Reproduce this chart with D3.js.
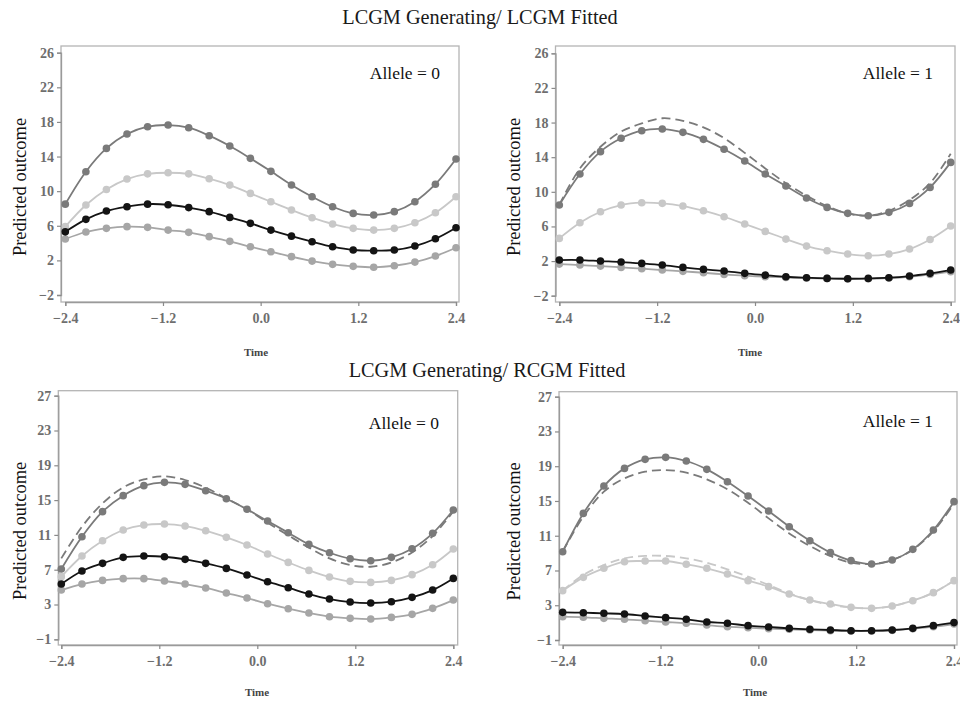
<!DOCTYPE html>
<html><head><meta charset="utf-8">
<script src="https://cdn.jsdelivr.net/npm/d3@7"></script>
<style>body{margin:0;background:#fff}svg{display:block}</style>
</head><body>
<svg id="chart" width="960" height="701"></svg>
<script>
// ---------- data ----------
const times = [-2.4, -2.147, -1.895, -1.642, -1.389, -1.137, -0.884, -0.632, -0.379, -0.126,
               0.126, 0.379, 0.632, 0.884, 1.137, 1.389, 1.642, 1.895, 2.147, 2.4];
const xTicks = [-2.4, -1.2, 0.0, 1.2, 2.4];
const yTicksTop = [-2, 2, 6, 10, 14, 18, 22, 26];
const yTicksBottom = [-1, 3, 7, 11, 15, 19, 23, 27];
const titles = ["LCGM Generating/ LCGM Fitted", "LCGM Generating/ RCGM Fitted"];
const panelLabels = ["Allele = 0", "Allele = 1", "Allele = 0", "Allele = 1"];
const yLabel = "Predicted outcome";
const xLabel = "Time";

// top-left (LCGM fitted, allele 0)
const tlA = [8.5, 12.25, 14.94, 16.6, 17.45, 17.64, 17.33, 16.41, 15.21, 13.79, 12.29, 10.71, 9.36, 8.2, 7.43, 7.24, 7.63, 8.78, 10.8, 13.71];
const tlB = [5.9, 8.4, 10.2, 11.4, 12.0, 12.13, 12.0, 11.44, 10.7, 9.74, 8.78, 7.82, 6.93, 6.2, 5.7, 5.5, 5.7, 6.35, 7.5, 9.36];
const tlC = [5.3, 6.74, 7.7, 8.2, 8.5, 8.43, 8.1, 7.63, 6.97, 6.28, 5.5, 4.8, 4.16, 3.58, 3.2, 3.12, 3.2, 3.66, 4.5, 5.78];
const tlD = [4.47, 5.28, 5.7, 5.9, 5.82, 5.5, 5.24, 4.74, 4.2, 3.58, 3.0, 2.43, 1.92, 1.54, 1.31, 1.2, 1.38, 1.8, 2.5, 3.46];
// top-right (LCGM fitted, allele 1)
const trA = [8.47, 12.05, 14.64, 16.18, 17.06, 17.25, 16.87, 16.06, 14.91, 13.56, 12.05, 10.67, 9.28, 8.2, 7.51, 7.24, 7.63, 8.66, 10.51, 13.4];
const trAtrue = [8.5, 12.7, 15.2, 16.95, 17.9, 18.5, 18.2, 17.45, 16.2, 14.5, 12.7, 11.0, 9.55, 8.35, 7.5, 7.25, 7.8, 9.05, 11.0, 14.4];
const trB = [4.62, 6.43, 7.7, 8.47, 8.74, 8.67, 8.36, 7.82, 7.12, 6.28, 5.43, 4.54, 3.73, 3.2, 2.81, 2.62, 2.81, 3.39, 4.5, 6.05];
const trC = [2.12, 2.12, 2.0, 1.89, 1.73, 1.54, 1.27, 1.04, 0.85, 0.58, 0.38, 0.19, 0.08, 0.0, -0.04, 0.0, 0.08, 0.27, 0.58, 0.96];
const trD = [1.65, 1.54, 1.42, 1.27, 1.12, 0.96, 0.81, 0.65, 0.46, 0.31, 0.19, 0.11, 0.04, 0.0, -0.04, -0.04, 0.04, 0.19, 0.46, 0.77];
// bottom-left (RCGM fitted, allele 0)
const blA = [7.08, 10.79, 13.67, 15.51, 16.66, 17.04, 16.81, 16.08, 15.16, 13.94, 12.59, 11.25, 9.91, 8.95, 8.26, 8.03, 8.42, 9.41, 11.18, 13.86];
const blAtrue = [8.3, 11.94, 14.62, 16.46, 17.38, 17.73, 17.31, 16.43, 15.2, 13.94, 12.4, 10.95, 9.53, 8.3, 7.54, 7.34, 7.84, 8.99, 10.87, 13.7];
const blB = [6.2, 8.57, 10.33, 11.56, 12.13, 12.25, 12.02, 11.48, 10.72, 9.84, 8.8, 7.84, 6.92, 6.16, 5.66, 5.54, 5.77, 6.43, 7.57, 9.38];
const blC = [5.35, 6.85, 7.73, 8.42, 8.57, 8.49, 8.19, 7.73, 7.15, 6.39, 5.62, 4.93, 4.2, 3.63, 3.28, 3.17, 3.32, 3.82, 4.66, 6.0];
const blD = [4.66, 5.35, 5.77, 5.97, 5.97, 5.7, 5.35, 4.9, 4.32, 3.74, 3.09, 2.52, 2.02, 1.6, 1.41, 1.33, 1.52, 1.87, 2.56, 3.51];
// bottom-right (RCGM fitted, allele 1)
const brA = [9.16, 13.57, 16.72, 18.75, 19.79, 20.02, 19.6, 18.64, 17.22, 15.57, 13.84, 12.04, 10.43, 9.05, 8.13, 7.74, 8.2, 9.43, 11.66, 14.92];
const brAtrue = [9.2, 13.19, 16.07, 17.6, 18.37, 18.56, 18.25, 17.49, 16.34, 14.8, 13.0, 11.27, 9.82, 8.67, 7.9, 7.74, 8.2, 9.4, 11.5, 14.7];
const brB = [4.68, 6.21, 7.25, 8.01, 8.09, 8.09, 7.71, 7.25, 6.59, 5.83, 5.14, 4.29, 3.6, 3.14, 2.76, 2.64, 2.91, 3.52, 4.45, 5.83];
const brBtrue = [4.7, 6.48, 7.63, 8.4, 8.67, 8.67, 8.4, 7.9, 7.13, 6.29, 5.33, 4.37, 3.6, 3.03, 2.76, 2.64, 2.91, 3.52, 4.45, 5.83];
const brC = [2.18, 2.14, 2.07, 1.99, 1.76, 1.57, 1.38, 1.07, 0.92, 0.65, 0.5, 0.34, 0.23, 0.15, 0.07, 0.07, 0.15, 0.34, 0.65, 1.0];
const brD = [1.68, 1.61, 1.49, 1.38, 1.22, 1.07, 0.92, 0.72, 0.53, 0.42, 0.3, 0.23, 0.15, 0.07, 0.03, 0.03, 0.11, 0.3, 0.53, 0.84];

// ---------- styles / layout ----------
const colA = "#7a7a7a", colB = "#c8c8c8", colC = "#141414", colD = "#a6a6a6";
const serif = "'Liberation Serif','Times New Roman',serif";

const panels = [
  {frame:[61,459,46,302], xr:[65.3,456], yr:[295,52.7], ydom:[-2,26], yt:yTicksTop, label:panelLabels[0], labelX:440, labelY:79, yLabX:20, timeX:256, timeY:356,
   dashed:[], solid:[[tlD,colD],[tlB,colB],[tlA,colA],[tlC,colC]]},
  {frame:[555.5,955,46,302], xr:[559.3,950.7], yr:[295.7,53.3], ydom:[-2,26], yt:yTicksTop, label:panelLabels[1], labelX:933, labelY:79, yLabX:514, timeX:750, timeY:356,
   dashed:[[trAtrue,colA]], solid:[[trD,colD],[trB,colB],[trA,colA],[trC,colC]]},
  {frame:[58.3,457.7,390.7,645], xr:[61.3,453.3], yr:[639.3,395.7], ydom:[-1,27], yt:yTicksBottom, label:panelLabels[2], labelX:439, labelY:429, yLabX:20, timeX:257, timeY:696,
   dashed:[[blAtrue,colA]], solid:[[blD,colD],[blB,colB],[blA,colA],[blC,colC]]},
  {frame:[559,957,391.7,645], xr:[562.7,954], yr:[640,396.7], ydom:[-1,27], yt:yTicksBottom, label:panelLabels[3], labelX:933, labelY:427, yLabX:514, timeX:755, timeY:696,
   dashed:[[brAtrue,colA],[brBtrue,colB]], solid:[[brD,colD],[brB,colB],[brA,colA],[brC,colC]]}
];

const svg = d3.select("#chart");

svg.append("text").attr("x",480).attr("y",24).attr("text-anchor","middle")
  .style("font-family",serif).style("font-size","20.3px").attr("fill","#1a1a1a").text(titles[0]);
svg.append("text").attr("x",487).attr("y",377).attr("text-anchor","middle")
  .style("font-family",serif).style("font-size","20.3px").attr("fill","#1a1a1a").text(titles[1]);

const fmt = d3.format(".1f");

panels.forEach(p => {
  const [fx0,fx1,fy0,fy1] = p.frame;
  const x = d3.scaleLinear().domain([-2.4,2.4]).range(p.xr);
  const y = d3.scaleLinear().domain(p.ydom).range(p.yr);
  const g = svg.append("g");

  g.append("rect").attr("x",fx0).attr("y",fy0).attr("width",fx1-fx0).attr("height",fy1-fy0)
    .attr("fill","none").attr("stroke","#b4b4b4").attr("stroke-width",1.3);

  const ya = g.append("g").attr("transform",`translate(${fx0},0)`)
    .call(d3.axisLeft(y).tickValues(p.yt).tickSize(4).tickPadding(3).tickFormat(d3.format("d")));
  const xa = g.append("g").attr("transform",`translate(0,${fy1})`)
    .call(d3.axisBottom(x).tickValues(xTicks).tickSize(4).tickPadding(7).tickFormat(fmt));
  [ya,xa].forEach(a => {
    a.select(".domain").attr("stroke","#9a9a9a").attr("stroke-width",1.3);
    a.selectAll(".tick line").attr("stroke","#8a8a8a").attr("stroke-width",1.2);
    a.selectAll(".tick text").style("font-family",serif).style("font-size","14px")
      .style("font-weight","bold").attr("fill","#6e6e6e");
  });

  const line = d3.line().x((d,i)=>x(times[i])).y(d=>y(d)).curve(d3.curveCatmullRom.alpha(0.5));

  p.dashed.forEach(([vals,col]) => {
    g.append("path").attr("d",line(vals)).attr("fill","none").attr("stroke",col)
      .attr("stroke-width",1.8).attr("stroke-dasharray","9,5");
  });
  p.solid.forEach(([vals,col]) => {
    g.append("path").attr("d",line(vals)).attr("fill","none").attr("stroke",col).attr("stroke-width",1.8);
    g.selectAll(null).data(vals).enter().append("circle")
      .attr("cx",(d,i)=>x(times[i])).attr("cy",d=>y(d)).attr("r",3.8).attr("fill",col);
  });

  g.append("text").attr("x",p.labelX).attr("y",p.labelY).attr("text-anchor","end")
    .style("font-family",serif).style("font-size","17.5px").attr("fill","#111").text(p.label);

  const cy = (fy0+fy1)/2 + 13;
  g.append("text").attr("transform",`translate(${p.yLabX+6},${cy}) rotate(-90)`).attr("text-anchor","middle")
    .style("font-family",serif).style("font-size","18.5px").attr("fill","#111").text(yLabel);

  g.append("text").attr("x",p.timeX).attr("y",p.timeY).attr("text-anchor","middle")
    .style("font-family",serif).style("font-size","11px").style("font-weight","bold").attr("fill","#444").text(xLabel);
});
</script>
</body></html>
